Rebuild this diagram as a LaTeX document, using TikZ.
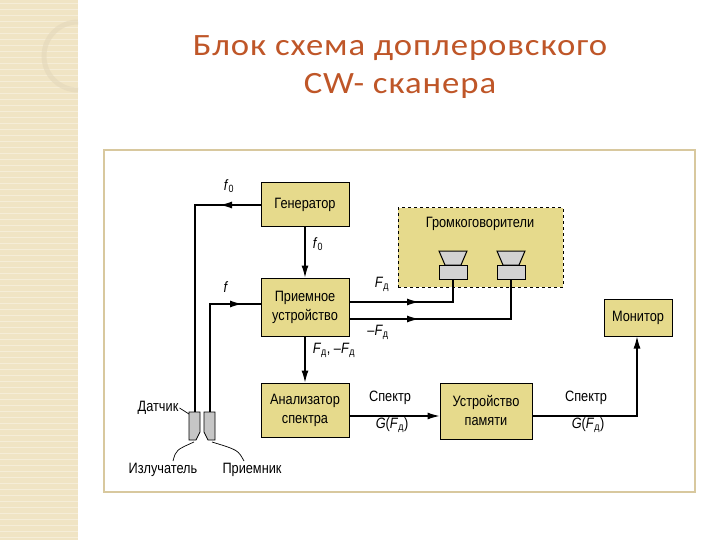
\documentclass[tikz,border=0pt]{standalone}
\usepackage{fontspec}
\setmainfont{Liberation Sans}
\newfontfamily\nar{Liberation Sans}[FakeStretch=0.85]
\newfontfamily\ttl{Carlito}[FakeStretch=1.12,LetterSpace=3]
\usetikzlibrary{arrows.meta}
\definecolor{boxf}{HTML}{E6DA8C}
\definecolor{ttlc}{HTML}{BF5628}
\definecolor{stripe}{HTML}{F0E4C4}
\definecolor{frm}{HTML}{D8C89E}
\newcommand{\myFd}{\textit{F}\textsubscript{д}}
\newcommand{\myfo}{\textit{f}\textsubscript{0}}
\begin{document}
\begin{tikzpicture}[x=1pt,y=-1pt,
  blk/.style={draw,fill=boxf,line width=1pt,inner sep=0pt,align=center,font=\nar\fontsize{15}{19}\selectfont},
  lbl/.style={font=\nar\fontsize{15}{17}\selectfont,inner sep=1pt},
  ln/.style={line width=1.1pt},
  tip/.style={-{Latex[length=12pt,width=7pt]}}]
\useasboundingbox (0,0) rectangle (720,540);
\fill[white] (0,0) rectangle (720,540);
\fill[stripe] (0,0) rectangle (78,540);
\foreach \y in {3,9,...,537} \draw[white,opacity=0.35,line width=0.6pt] (0,\y) -- (78,\y);
\draw[frm!70!white,opacity=0.6,line width=5pt] (78,90) arc[start angle=90,end angle=270,radius=34];
\node[font=\ttl\fontsize{31}{34}\selectfont,text=ttlc] (t1) at (400,48) {Блок схема доплеровского};
\node[font=\ttl\fontsize{31}{34}\selectfont,text=ttlc] (t2) at (400,86) {CW- сканера};
\draw[frm,line width=1.5pt] (104,150) rectangle (695,492);
% blocks
\node[blk,minimum width=88pt,minimum height=44pt] (gen) at (305,205) {Генератор};
\node[blk,minimum width=88pt,minimum height=58pt] (rec) at (305,307) {Приемное\\устройство};
\node[blk,minimum width=88pt,minimum height=54pt] (an) at (305,410) {Анализатор\\спектра};
\node[blk,minimum width=92pt,minimum height=56pt] (mem) at (486,411) {Устройство\\памяти};
\node[blk,minimum width=68pt,minimum height=37pt] (mon) at (638,317.5) {Монитор};
\node[draw,dashed,fill=boxf,line width=1pt,minimum width=165pt,minimum height=79pt,inner sep=0pt] (spk) at (480.5,247.5) {};
\node[lbl] (spkl) at (480,224) {Громкоговорители};
% speakers
\foreach \n/\x in {s1/453,s2/511}{
  \draw[fill=gray!35,line width=1pt] (\x-14,251) -- (\x+14,251) -- (\x+8,265) -- (\x-8,265) -- cycle;
  \node[draw,fill=gray!35,line width=1pt,minimum width=28pt,minimum height=14pt,inner sep=0pt] (\n) at (\x,272) {};
}
% transducers
\draw[fill=gray!45,line width=0.8pt] (189,412) -- (200,412) -- (200,432) -- (196,440) -- (189,440) -- cycle;
\draw[fill=gray!45,line width=0.8pt] (204,412) -- (215,412) -- (215,440) -- (208,440) -- (204,432) -- cycle;
\coordinate (dA) at (195,412);
\coordinate (dB) at (210,412);
\node[lbl] (dat) at (158,408) {Датчик};
\node[lbl] (izl) at (163,470) {Излучатель};
\node[lbl] (pri) at (252,470) {Приемник};
\draw[line width=0.7pt] (dat.east) -- (189,414);
\draw[line width=0.7pt] (173,461) .. controls (176,450) .. (194,442);
\draw[line width=0.7pt] (244,461) .. controls (238,450) .. (212,442);
% connectors
\draw[ln] (gen.west) -- (195,205) -- (dA);
\draw[ln,tip] (gen.west) -- (220,205);
\node[lbl] (f0a) at (229,186) {\myfo};
\draw[ln,tip] (gen.south) -- (rec.north);
\node[lbl] (f0b) at (318,244) {\myfo};
\draw[ln] (dB) -- (210,304) -- (rec.west |- 0,304);
\draw[ln,tip] (210,304) -- (242,304);
\node[lbl] (fl) at (226,287) {\textit{f}};
\draw[ln,tip] (rec.south) -- (an.north);
\node[lbl] (fdd) at (334,350) {\myFd, –\myFd};
\draw[ln] (rec.east |- 0,302) -- (453,302) -- (s1.south);
\draw[ln,tip] (rec.east |- 0,302) -- (419,302);
\draw[ln] (rec.east |- 0,319) -- (511,319) -- (s2.south);
\draw[ln,tip] (rec.east |- 0,319) -- (419,319);
\node[lbl] (fd1) at (382,284) {\myFd};
\node[lbl] (fd2) at (378,332) {–\myFd};
\draw[ln,tip] (an.east |- 0,416) -- (mem.west |- 0,416);
\node[lbl] (sp1) at (390,398) {Спектр};
\node[lbl] (g1) at (392,425) {\textit{G}(\myFd)};
\draw[ln,tip] (mem.east |- 0,416) -- (637,416) -- (mon.south -| 637,0);
\node[lbl] (sp2) at (586,398) {Спектр};
\node[lbl] (g2) at (588,425) {\textit{G}(\myFd)};
\end{tikzpicture}
\end{document}
